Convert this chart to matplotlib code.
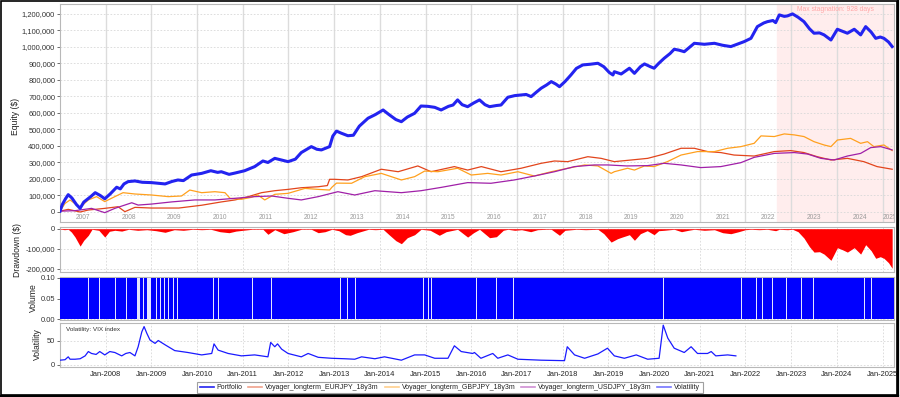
import numpy as np
import matplotlib
matplotlib.use("Agg")
import matplotlib.pyplot as plt
from matplotlib.lines import Line2D
from matplotlib.patches import Rectangle

plt.rcParams['font.family'] = ['Liberation Sans', 'DejaVu Sans']

# ---------------- data (decimal years, values) ----------------
port_t = [2007.00, 2007.05, 2007.12, 2007.18, 2007.26, 2007.36, 2007.44, 2007.52, 2007.58, 2007.68,
          2007.77, 2007.88, 2007.98, 2008.10, 2008.24, 2008.32, 2008.40, 2008.49, 2008.64, 2008.80,
          2009.00, 2009.30, 2009.45, 2009.58, 2009.70, 2009.88, 2010.10, 2010.30, 2010.45, 2010.53,
          2010.70, 2010.83, 2011.04, 2011.26, 2011.44, 2011.55, 2011.70, 2011.85, 2011.99, 2012.15,
          2012.28, 2012.50, 2012.62, 2012.72, 2012.90, 2012.97, 2013.05, 2013.15, 2013.30, 2013.42,
          2013.55, 2013.74, 2013.90, 2014.07, 2014.20, 2014.35, 2014.47, 2014.60, 2014.76, 2014.90,
          2015.05, 2015.20, 2015.34, 2015.50, 2015.60, 2015.70, 2015.80, 2015.92, 2016.05, 2016.18,
          2016.30, 2016.40, 2016.55, 2016.65, 2016.80, 2016.95, 2017.09, 2017.20, 2017.31, 2017.42,
          2017.53, 2017.65, 2017.75, 2017.85, 2017.93, 2018.05, 2018.18, 2018.30, 2018.44, 2018.60,
          2018.77, 2018.90, 2019.02, 2019.10, 2019.13, 2019.28, 2019.46, 2019.57, 2019.70, 2019.79,
          2019.92, 2020.00, 2020.10, 2020.22, 2020.35, 2020.44, 2020.55, 2020.66, 2020.88, 2021.10,
          2021.32, 2021.50, 2021.68, 2021.85, 2021.97, 2022.12, 2022.26, 2022.40, 2022.48, 2022.60,
          2022.66, 2022.74, 2022.85, 2022.92, 2023.03, 2023.15, 2023.28, 2023.40, 2023.50, 2023.62,
          2023.72, 2023.87, 2024.01, 2024.12, 2024.23, 2024.38, 2024.52, 2024.63, 2024.75, 2024.85,
          2024.95, 2025.03, 2025.13, 2025.21]
port_v = [5, 45, 80, 105, 85, 45, 22, 60, 73, 95,
          117, 100, 80, 110, 150, 140, 170, 184, 188, 180,
          178, 170, 185, 194, 190, 224, 234, 250, 240, 244,
          228, 236, 250, 275, 309, 300, 325, 315, 305, 320,
          360, 396, 380, 376, 396, 460, 490, 478, 462, 465,
          520, 568, 590, 618, 590, 560, 547, 575, 598, 642,
          640, 634, 618, 640, 648, 679, 650, 638, 660, 679,
          650, 638, 645, 648, 695, 705, 709, 712, 699, 725,
          750, 770, 790, 775, 759, 790, 830, 870, 891, 895,
          901, 880, 845, 830, 850, 836, 871, 840, 880, 897,
          880, 871, 900, 931, 960, 986, 980, 971, 1022, 1016,
          1022, 1010, 1002, 1020, 1032, 1052, 1123, 1145, 1153, 1160,
          1147, 1194, 1185, 1188, 1200, 1180, 1153, 1110, 1083, 1085,
          1073, 1042, 1107, 1095, 1083, 1107, 1073, 1123, 1090, 1052,
          1060, 1052, 1030, 1002]

eur_t = [2007.00, 2007.18, 2007.44, 2007.62, 2007.98, 2008.27, 2008.42, 2008.64, 2009.00, 2009.60,
         2010.10, 2010.53, 2010.83, 2011.12, 2011.41, 2011.70, 2011.99, 2012.28, 2012.65, 2012.85,
         2012.90, 2013.01, 2013.30, 2013.60, 2014.03, 2014.40, 2014.83, 2015.12, 2015.63, 2015.92,
         2016.22, 2016.65, 2017.09, 2017.53, 2017.82, 2018.11, 2018.55, 2018.84, 2019.13, 2019.50,
         2019.86, 2020.22, 2020.59, 2020.88, 2021.17, 2021.46, 2021.75, 2022.19, 2022.63, 2022.99,
         2023.28, 2023.57, 2023.87, 2024.23, 2024.59, 2024.88, 2025.21]
eur_v = [5, 16, 0, 12, 22, 32, 2, 28, 24, 24,
         41, 61, 73, 93, 117, 129, 137, 147, 153, 160,
         198, 198, 194, 214, 259, 244, 279, 244, 275, 254,
         275, 244, 265, 295, 309, 305, 335, 325, 305, 315,
         325, 351, 386, 386, 366, 360, 345, 339, 366, 372,
         360, 335, 315, 325, 305, 275, 259]

gbp_t = [2007.00, 2007.11, 2007.22, 2007.33, 2007.44, 2007.62, 2007.80, 2007.98, 2008.20, 2008.38,
         2008.64, 2009.00, 2009.37, 2009.66, 2009.84, 2010.10, 2010.39, 2010.61, 2010.72, 2010.97,
         2011.19, 2011.33, 2011.48, 2011.70, 2011.99, 2012.36, 2012.65, 2012.90, 2012.95, 2013.05,
         2013.38, 2013.67, 2014.03, 2014.47, 2014.76, 2014.98, 2015.27, 2015.70, 2016.00, 2016.36,
         2016.65, 2017.02, 2017.38, 2017.75, 2018.11, 2018.48, 2018.77, 2019.06, 2019.13, 2019.42,
         2019.57, 2019.79, 2020.00, 2020.29, 2020.59, 2020.95, 2021.32, 2021.61, 2021.90, 2022.19,
         2022.34, 2022.63, 2022.85, 2023.07, 2023.28, 2023.50, 2023.72, 2023.87, 2024.01, 2024.30,
         2024.52, 2024.67, 2024.81, 2025.03, 2025.21]
gbp_v = [5, 52, 73, 50, 28, 73, 93, 63, 93, 117,
         109, 103, 93, 97, 133, 117, 123, 117, 83, 77,
         89, 103, 73, 107, 113, 143, 137, 133, 150, 175,
         174, 214, 234, 194, 214, 248, 244, 265, 224, 234,
         224, 244, 218, 244, 265, 285, 279, 234, 244, 265,
         254, 279, 275, 305, 345, 366, 366, 386, 396, 416,
         461, 457, 473, 467, 457, 426, 406, 396, 436, 446,
         416, 426, 396, 406, 372]

usd_t = [2007.00, 2007.33, 2007.69, 2007.98, 2008.20, 2008.57, 2008.71, 2009.00, 2009.44, 2009.95,
         2010.39, 2010.83, 2011.26, 2011.63, 2011.99, 2012.28, 2012.65, 2013.08, 2013.45, 2013.89,
         2014.47, 2014.90, 2015.34, 2015.92, 2016.43, 2016.94, 2017.38, 2017.82, 2018.26, 2018.69,
         2018.99, 2019.40, 2019.86, 2020.22, 2020.59, 2021.02, 2021.46, 2021.90, 2022.19, 2022.63,
         2023.07, 2023.36, 2023.65, 2023.94, 2024.23, 2024.52, 2024.74, 2024.96, 2025.21]
usd_v = [5, 8, 22, -4, 22, 56, 42, 48, 61, 73,
         73, 83, 93, 97, 83, 73, 93, 123, 103, 129,
         117, 129, 149, 178, 174, 194, 218, 244, 275, 285,
         285, 279, 281, 295, 285, 269, 275, 299, 331, 355,
         360, 351, 325, 315, 339, 355, 390, 396, 376]

dd_t = [2007.00, 2007.10, 2007.18, 2007.25, 2007.33, 2007.44, 2007.52, 2007.62, 2007.70, 2007.85,
        2007.98, 2008.08, 2008.20, 2008.35, 2008.50, 2008.70, 2008.90, 2009.10, 2009.30, 2009.50,
        2009.70, 2009.90, 2010.10, 2010.30, 2010.50, 2010.70, 2010.85, 2011.00, 2011.20, 2011.44,
        2011.55, 2011.70, 2011.90, 2012.10, 2012.28, 2012.50, 2012.65, 2012.80, 2012.95, 2013.10,
        2013.25, 2013.35, 2013.50, 2013.75, 2013.90, 2014.07, 2014.20, 2014.35, 2014.47, 2014.60,
        2014.76, 2014.90, 2015.10, 2015.30, 2015.45, 2015.70, 2015.92, 2016.05, 2016.18, 2016.40,
        2016.55, 2016.70, 2016.80, 2016.95, 2017.10, 2017.30, 2017.45, 2017.65, 2017.75, 2017.93,
        2018.05, 2018.30, 2018.50, 2018.77, 2018.90, 2019.06, 2019.20, 2019.30, 2019.46, 2019.57,
        2019.70, 2019.85, 2020.00, 2020.10, 2020.22, 2020.44, 2020.60, 2020.75, 2020.88, 2021.10,
        2021.32, 2021.50, 2021.68, 2021.85, 2022.00, 2022.12, 2022.30, 2022.48, 2022.66, 2022.74,
        2022.92, 2023.03, 2023.15, 2023.28, 2023.40, 2023.50, 2023.62, 2023.72, 2023.87, 2024.01,
        2024.12, 2024.23, 2024.38, 2024.52, 2024.63, 2024.75, 2024.85, 2024.95, 2025.03, 2025.13,
        2025.21]
dd_v = [-2, -5, -3, -17, -42, -87, -58, -33, -3, -8,
        -42, -13, -8, -12, -3, -8, -5, -10, -18, -5,
        -8, -3, -5, -3, -15, -20, -12, -8, -3, -3,
        -28, -5, -25, -15, -3, -3, -20, -15, -3, -10,
        -30, -33, -20, -3, -5, -3, -30, -60, -75, -45,
        -30, -3, -8, -33, -15, -3, -42, -20, -3, -45,
        -40, -8, -3, -8, -5, -15, -5, -3, -3, -33,
        -8, -3, -5, -3, -25, -67, -50, -42, -30, -58,
        -25, -10, -30, -10, -8, -3, -15, -8, -3, -8,
        -5, -20, -25, -15, -5, -3, -5, -3, -10, -3,
        -5, -3, -15, -47, -90, -117, -115, -127, -158, -95,
        -105, -117, -95, -127, -80, -110, -148, -140, -148, -170,
        -198]

vol_start, vol_end, vol_level = 2007.0, 2025.25, 0.10
vol_gap_t = [2007.62, 2007.86, 2008.20, 2008.44, 2008.68, 2008.81, 2008.90, 2009.11, 2009.19, 2009.27,
             2009.37, 2009.48, 2009.55, 2010.35, 2010.46, 2011.21, 2011.61, 2013.12, 2013.27, 2013.45,
             2014.94, 2015.05, 2015.12, 2016.11, 2016.55, 2016.91, 2020.19, 2021.90, 2022.23, 2022.37,
             2022.59, 2022.88, 2023.21, 2023.47, 2024.60, 2024.74]
vol_gap_w = [0.022, 0.022, 0.022, 0.022, 0.06, 0.022, 0.10, 0.022, 0.022, 0.022,
             0.022, 0.022, 0.022, 0.022, 0.022, 0.022, 0.022, 0.022, 0.022, 0.022,
             0.022, 0.022, 0.022, 0.022, 0.022, 0.022, 0.025, 0.022, 0.022, 0.022,
             0.022, 0.022, 0.022, 0.022, 0.025, 0.022]

vix_t = [2007.00, 2007.11, 2007.18, 2007.22, 2007.33, 2007.44, 2007.55, 2007.62, 2007.69, 2007.79,
         2007.87, 2007.98, 2008.09, 2008.20, 2008.35, 2008.44, 2008.53, 2008.64, 2008.71, 2008.79,
         2008.84, 2008.90, 2008.97, 2009.08, 2009.15, 2009.30, 2009.51, 2009.80, 2010.10, 2010.32,
         2010.37, 2010.46, 2010.68, 2010.97, 2011.26, 2011.55, 2011.61, 2011.70, 2011.76, 2011.85,
         2011.99, 2012.28, 2012.43, 2012.65, 2012.94, 2013.23, 2013.45, 2013.60, 2013.89, 2014.10,
         2014.47, 2014.76, 2014.98, 2015.20, 2015.49, 2015.63, 2015.78, 2016.03, 2016.07, 2016.21,
         2016.47, 2016.58, 2016.80, 2017.02, 2017.53, 2018.04, 2018.10, 2018.26, 2018.48, 2018.77,
         2018.98, 2019.13, 2019.35, 2019.61, 2019.86, 2020.11, 2020.20, 2020.30, 2020.44, 2020.66,
         2020.81, 2020.95, 2021.17, 2021.25, 2021.35, 2021.61, 2021.79]
vix_v = [10, 11, 17, 12, 12, 13, 19, 28, 24, 22,
         28, 21, 28, 26, 19, 24, 26, 19, 38, 69,
         80, 66, 52, 45, 51, 42, 30, 26, 21, 24,
         44, 31, 24, 19, 21, 17, 47, 38, 44, 33,
         24, 17, 24, 16, 14, 13, 12, 17, 13, 17,
         10, 21, 21, 14, 14, 40, 28, 24, 26, 14,
         24, 14, 21, 12, 10, 9, 38, 21, 14, 23,
         35, 19, 14, 21, 12, 14, 83, 56, 35, 26,
         38, 24, 24, 28, 19, 21, 19]

stag_start, stag_end, stag_days = 2022.70, 2025.25, 928
year_labels = list(range(2007, 2026))
series_names = ['Portfolio', 'Voyager_longterm_EURJPY_18y3m', 'Voyager_longterm_GBPJPY_18y3m',
                'Voyager_longterm_USDJPY_18y3m', 'Volatility']

# ---------------- styling ----------------
C_PORT = '#2323f0'
C_EUR = '#e2451c'
C_GBP = '#ffa01e'
C_USD = '#a020a8'
C_VIX = '#1a1aff'
GRID = '#d8d8d8'
SPINE = '#b8b8b8'
TICK_FS = 5.4
XMIN, XMAX = 2007.0, 2025.25

fig = plt.figure(figsize=(9, 3.97), dpi=100)
W, H = 900, 397

def ax_at(left, top, right, bottom):
    return fig.add_axes([left / W, 1 - bottom / H, (right - left) / W, (bottom - top) / H])

ax1 = ax_at(60, 4, 894, 222)
ax2 = ax_at(60, 227, 894, 272)
ax3 = ax_at(60, 277, 894, 320)
ax4 = ax_at(60, 323, 894, 367)

for ax in (ax1, ax2, ax3, ax4):
    ax.set_xlim(XMIN, XMAX)
    for s in ax.spines.values():
        s.set_color(SPINE)
        s.set_linewidth(0.8)
    ax.tick_params(axis='both', labelsize=TICK_FS, colors='#333333', length=2, width=0.5, pad=1.5)
    ax.tick_params(axis='x', length=0)
    ax.set_xticks([y for y in year_labels if y > XMIN])
    ax.set_axisbelow(True)

# ---- equity panel ----
ax1.set_ylim(-60600, 1260000)
ax1.set_yticks(np.arange(0, 1200001, 100000))
ax1.set_yticklabels([f'{v:,.0f}' for v in np.arange(0, 1200001, 100000)])
ax1.set_xticklabels([])
ax1.axvspan(stag_start, stag_end, color='#ffeded', zorder=0)
ax1.grid(axis='y', color=GRID, linestyle=(0, (2, 2)), linewidth=0.6)
ax1.grid(axis='x', color='#dcdcdc', linestyle='-', linewidth=1.0)
ax1.plot(eur_t, np.array(eur_v) * 1000, color=C_EUR, lw=0.9, zorder=3)
ax1.plot(gbp_t, np.array(gbp_v) * 1000, color=C_GBP, lw=0.9, zorder=3)
ax1.plot(usd_t, np.array(usd_v) * 1000, color=C_USD, lw=0.9, zorder=3)
ax1.plot(port_t, np.array(port_v) * 1000, color=C_PORT, lw=2.2, zorder=4)
for y in year_labels:
    xc = y + 0.5 if y < 2025 else (y + XMAX) / 2 + 0.03
    ax1.text(xc, -36000, str(y), ha='center', va='center', fontsize=4.8, color='#9a9a9a', clip_on=True)
ax1.text((stag_start + stag_end) / 2 + 0.0, 1224000, f'Max stagnation: {stag_days} days',
         ha='center', va='center', fontsize=4.9, color='#ffa8a8')

# ---- drawdown panel ----
ax2.set_ylim(-216500, 8500)
ax2.set_yticks([0, -100000, -200000])
ax2.set_yticklabels(['0', '-100,000', '-200,000'])
ax2.set_xticklabels([])
ax2.grid(True, color=GRID, linestyle=(0, (2, 2)), linewidth=0.6)
ax2.fill_between(dd_t, np.array(dd_v) * 1000, 0, color='#ff0000', linewidth=0, zorder=3)

# ---- volume panel ----
ax3.set_ylim(-0.0024, 0.1024)
ax3.set_yticks([0.0, 0.05, 0.10])
ax3.set_yticklabels(['0.00', '0.05', '0.10'])
ax3.set_xticklabels([])
ax3.grid(True, color=GRID, linestyle=(0, (2, 2)), linewidth=0.6)
ax3.bar([vol_start], [vol_level], width=vol_end - vol_start, align='edge', color='#0000ff',
        linewidth=0, zorder=3)
ax3.bar(vol_gap_t, [vol_level] * len(vol_gap_t), width=vol_gap_w, align='edge', color='#e4e4ff',
        linewidth=0, zorder=4)

# ---- volatility panel ----
ax4.set_ylim(-4.2, 87.5)
ax4.set_yticks([0, 50])
ax4.set_xticklabels([f'Jan-{y}' for y in year_labels if y > XMIN])
ax4.tick_params(axis='x', labelsize=5.4, colors='#222222', pad=3)
ax4.grid(True, color=GRID, linestyle=(0, (2, 2)), linewidth=0.6)
ax4.plot(vix_t, vix_v, color=C_VIX, lw=0.9, zorder=3)
ax4.text(0.007, 0.92, 'Volatility: VIX index', transform=ax4.transAxes, ha='left', va='top',
         fontsize=4.6, color='#333333')

# ---- axis titles ----
fig.text(15 / W, 1 - 116 / H, 'Equity ($)', rotation=90, ha='center', va='center', fontsize=6.2, color='#222222')
fig.text(17 / W, 1 - 250 / H, 'Drawdown ($)', rotation=90, ha='center', va='center', fontsize=6.2, color='#222222')
fig.text(33 / W, 1 - 298 / H, 'Volume', rotation=90, ha='center', va='center', fontsize=6.2, color='#222222')
fig.text(37 / W, 1 - 344 / H, 'Volatility', rotation=90, ha='center', va='center', fontsize=6.2, color='#222222')

# ---- legend ----
handles = [Line2D([], [], color=C_PORT, lw=1.2),
           Line2D([], [], color=C_EUR, lw=1.2, alpha=0.5),
           Line2D([], [], color=C_GBP, lw=1.2, alpha=0.5),
           Line2D([], [], color=C_USD, lw=1.2, alpha=0.5),
           Line2D([], [], color=C_VIX, lw=1.2, alpha=0.6)]
leg = fig.legend(handles, series_names, loc='center', bbox_to_anchor=(450 / W, 1 - 387.5 / H),
                 ncol=5, fontsize=5.0, frameon=True, fancybox=False, handlelength=2.0,
                 handletextpad=0.45, columnspacing=0.8, borderpad=0.35, labelcolor='#222222')
leg.get_frame().set_edgecolor('#888888')
leg.get_frame().set_linewidth(0.8)

# ---- outer border ----
fig.add_artist(Rectangle((0.5 / W, 2.5 / H), (897 - 0.5) / W, (396 - 2.5) / H, transform=fig.transFigure,
                         fill=False, edgecolor='black', linewidth=1.2))
fig.add_artist(Line2D([898 / W, 898 / W], [2 / H, 1 - 1 / H], transform=fig.transFigure, color='black', lw=1.6))
fig.add_artist(Line2D([1 / W, 898 / W], [1.5 / H, 1.5 / H], transform=fig.transFigure, color='black', lw=1.6))

fig.savefig('out.png', dpi=100, facecolor='white')
